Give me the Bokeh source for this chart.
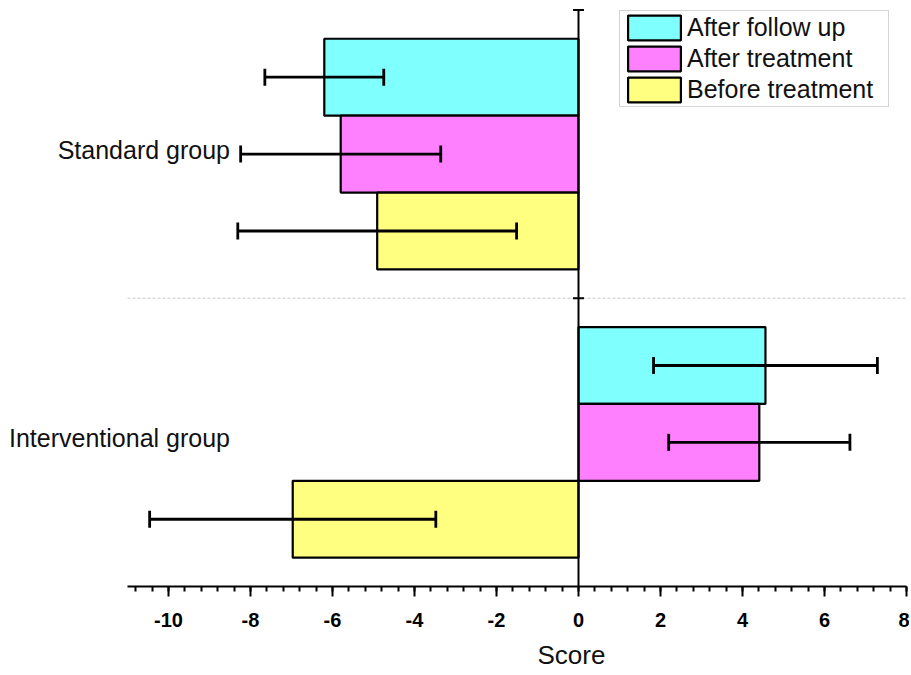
from bokeh.plotting import figure
from bokeh.models import (ColumnDataSource, Whisker, TeeHead, Label, Title,
                          Legend, LegendItem, FixedTicker)
from bokeh.embed import file_html
from bokeh.resources import INLINE

groups = ["Interventional group", "Standard group"]
series = ["After follow up", "After treatment", "Before treatment"]
colors = ["#80FFFF", "#FF80FF", "#FFFF80"]
follow_mean = [4.56, -6.20]
follow_err = [2.73, 1.45]
treat_mean = [4.41, -5.80]
treat_err = [2.21, 2.44]
before_mean = [-6.97, -4.91]
before_err = [3.49, 3.40]
x_ticks = [-10, -8, -6, -4, -2, 0, 2, 4, 6, 8]
x_axis_start, x_axis_end = -11, 8
x_title = "Score"

FONT = "Liberation Sans"

p = figure(output_backend="svg", toolbar_location=None,
           frame_width=902, frame_height=580,
           min_border_left=4, min_border_right=3, min_border_top=6,
           min_border_bottom=0,
           x_range=(-14, 8), y_range=(0, 2.012))
p.outline_line_color = None
p.xgrid.grid_line_color = None
p.ygrid.grid_line_color = None
p.yaxis.visible = False

centers = [i + 0.5 for i in range(len(groups))]
bar_h = 0.2667
offsets = [bar_h, 0.0, -bar_h]
means = [follow_mean, treat_mean, before_mean]
errs = [follow_err, treat_err, before_err]

# separator between groups
p.segment(x0=[x_axis_start], y0=[1], x1=[x_axis_end], y1=[1],
          line_color="#c8c8c8", line_width=1, line_dash="3 2")

items = []
for name, col, off, m, e in zip(series, colors, offsets, means, errs):
    ys = [c + off for c in centers]
    src = ColumnDataSource(dict(y=ys, right=m,
                                lo=[a - b for a, b in zip(m, e)],
                                hi=[a + b for a, b in zip(m, e)]))
    r = p.hbar(y="y", left=0, right="right", height=bar_h, source=src,
               fill_color=col, line_color="black", line_width=2.2)
    items.append(LegendItem(label=name, renderers=[r]))
    w = Whisker(base="y", lower="lo", upper="hi", dimension="width",
                source=src, line_color="black", line_width=2.8, level="overlay",
                upper_head=TeeHead(size=17, line_width=2.8, line_color="black"),
                lower_head=TeeHead(size=17, line_width=2.8, line_color="black"))
    p.add_layout(w)

# vertical axis at x = 0
p.segment(x0=[0], y0=[0], x1=[0], y1=[2], line_color="black", line_width=2)
p.scatter(x=[0, 0], y=[1, 2], marker="dash", size=11, line_color="black",
          line_width=2)

# group labels
for g, c in zip(groups, centers):
    p.add_layout(Label(x=-8.5, y=c, y_offset=4, text=g, text_align="right",
                       text_baseline="middle", text_font=FONT,
                       text_font_size="25px", text_color="#111111"))

# x axis
ax = p.xaxis[0]
ax.bounds = (x_axis_start, x_axis_end)
ax.ticker = FixedTicker(ticks=x_ticks,
                        minor_ticks=[round(-10.8 + 0.4 * i, 2) for i in range(48)])
ax.major_label_overrides = {t: str(t) for t in x_ticks}
ax.axis_line_width = 2
ax.major_tick_line_width = 2
ax.minor_tick_line_width = 2
ax.major_tick_out = 10
ax.major_tick_in = 0
ax.minor_tick_out = 5
ax.minor_tick_in = 0
ax.major_label_text_font = FONT
ax.major_label_text_font_style = "bold"
ax.major_label_text_font_size = "20px"
ax.major_label_text_color = "black"
ax.major_label_standoff = 16

p.add_layout(Title(text=x_title, align="left", offset=533, standoff=16,
                   text_font=FONT, text_font_style="normal",
                   text_font_size="26px", text_color="#111111"), "below")

legend = Legend(items=items, location=(615, 479),
                label_text_font=FONT, label_text_font_size="25px",
                label_text_color="#111111",
                glyph_width=66, glyph_height=31, label_height=31,
                label_width=200,
                spacing=0, padding=1, margin=0, label_standoff=0,
                border_line_color="#aaaaaa", border_line_width=1,
                background_fill_color="white", background_fill_alpha=1)
p.add_layout(legend)

open("out.html", "w").write(file_html(p, INLINE))
